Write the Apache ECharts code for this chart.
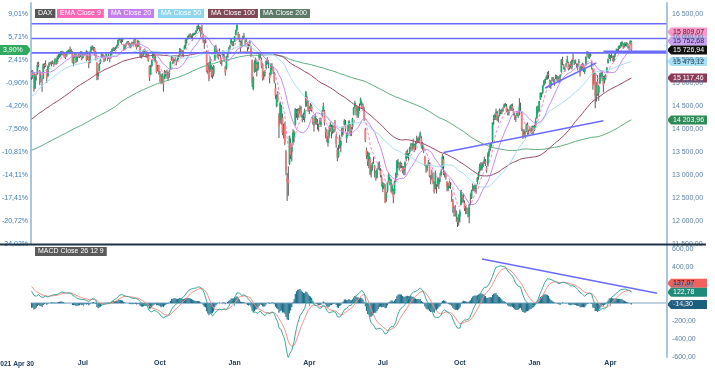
<!DOCTYPE html>
<html><head><meta charset="utf-8">
<script src="https://cdn.jsdelivr.net/npm/echarts@6/dist/echarts.min.js"></script>
<style>html,body{margin:0;padding:0;background:#fff}#c{width:715px;height:368px}</style>
</head><body><div id="c"></div>
<script>
// ---------- DATA ----------
const baseClose = 15135.91;            // close of 2021-04-30 (0 % reference)
const startDate = '2021-04-30';
const holidays = ['2021-12-24','2021-12-31','2022-04-15','2022-04-18','2022-12-26','2023-04-07','2023-04-10','2023-05-01'];
const padDays = 30;                    // empty room right of the last candle

// closes before the window (Jul 2020 - Apr 29 2021), needed for the indicators
const historyCloses = [
12930,13090,12920,13046,13171,13105,12838,12856,12838,12835,12379,12313,
12647,12600,12660,12591,12674,12687,12946,12947,12993,12901,12920,13047,12882,12974,12766,13067,13066,13031,12972,12945,13010,
13243,12974,12842,12842,12968,13101,13237,13202,13194,13218,13255,13208,13116,12542,12606,12642,12607,12469,12870,12825,12760,12730,
12689,12828,12906,12928,13042,13051,13138,12946,12917,12704,12873,12854,12736,12558,12542,12646,12645,12178,12064,11560,11556,11788,
12089,12324,12788,12568,12480,13095,13163,13217,13052,13076,13133,13138,13202,13086,13137,13126,13292,13287,13335,13291,13382,
13382,13313,13252,13298,13271,13278,13340,13114,13223,13363,13565,13630,13587,13246,13419,13587,13790,13761,13719,13719,
13726,13651,13892,13968,14050,13937,13925,13940,13988,13787,13815,13848,13907,13906,13874,13643,13870,13620,13214,13432,
13623,13836,13934,14060,14057,14059,14011,14040,14012,14050,14109,14064,13887,13909,13993,13950,13865,13976,13879,13786,
14012,14039,14080,13921,13920,14381,14437,14541,14569,14502,14461,14496,14597,14775,14621,14657,14662,14606,14621,14748,14817,14840,15008,
15107,15212,15177,15202,15234,15216,15234,15285,15367,15155,15459,15368,15195,15320,15279,15296,15249,15292,15154
];

// daily DAX candles [open, close, low, high], 2021-04-30 .. 2023-05-02
const candles = [
[15251,15136,15076,15278],
// May 2021
[15136,15237,15100,15289],[15237,14856,14820,15245],[14890,15171,14880,15195],[15170,15197,15060,15215],[15220,15400,15190,15460],
[15420,15400,15350,15470],[15280,15120,14960,15290],[15150,15150,15020,15240],[15050,15032,14816,15110],[15100,15416,15090,15430],
[15400,15397,15320,15440],[15420,15386,15350,15500],[15300,15113,15010,15310],[15150,15370,15150,15390],[15390,15438,15360,15460],
[15440,15438,15410,15470],[15450,15465,15370,15480],[15470,15450,15420,15500],[15460,15406,15360,15470],[15420,15520,15410,15550],
[15520,15421,15400,15530],
// Jun 2021
[15430,15568,15430,15605],[15560,15602,15520,15640],[15600,15632,15560,15650],[15620,15693,15580,15700],[15690,15677,15620,15710],
[15680,15640,15600,15700],[15650,15581,15560,15660],[15580,15571,15530,15630],[15590,15693,15580,15700],[15690,15674,15650,15720],
[15680,15729,15670,15740],[15730,15711,15640,15802],[15700,15710,15660,15750],[15690,15448,15440,15700],[15420,15603,15370,15610],
[15610,15637,15560,15660],[15640,15456,15440,15660],[15480,15589,15470,15600],[15600,15607,15560,15650],[15610,15578,15550,15640],
[15590,15691,15570,15700],[15690,15531,15500,15700],
// Jul 2021
[15560,15603,15540,15640],[15620,15650,15590,15680],[15660,15661,15620,15690],[15680,15511,15480,15720],[15540,15692,15510,15700],
[15600,15421,15330,15610],[15450,15688,15440,15700],[15700,15791,15690,15810],[15790,15790,15730,15830],[15780,15788,15700,15800],
[15770,15629,15600,15790],[15650,15540,15500,15700],[15450,15133,15068,15460],[15160,15216,15080,15260],[15270,15422,15260,15440],
[15450,15515,15420,15530],[15560,15669,15550,15680],[15630,15618,15560,15640],[15600,15519,15460,15620],[15520,15571,15480,15590],
[15600,15640,15570,15660],[15580,15544,15490,15600],
// Aug 2021
[15600,15568,15530,15650],[15560,15555,15460,15600],[15570,15692,15540,15700],[15700,15745,15660,15760],[15740,15761,15700,15790],
[15750,15745,15700,15780],[15760,15770,15720,15800],[15780,15826,15760,15840],[15830,15937,15810,15950],[15940,15977,15920,15990],
[15950,15925,15880,15980],[15920,15922,15860,15960],[15940,15965,15900,15990],[15850,15765,15710,15860],[15760,15808,15720,15830],
[15840,15853,15800,15880],[15880,15906,15860,15920],[15900,15860,15830,15920],[15860,15793,15780,15880],[15800,15852,15760,15870],
[15870,15888,15850,15910],[15880,15835,15800,15900],
// Sep 2021
[15860,15946,15850,15980],[15950,15840,15800,15960],[15850,15781,15740,15860],[15800,15932,15790,15950],[15900,15843,15800,15920],
[15800,15610,15560,15810],[15620,15623,15540,15660],[15650,15609,15580,15700],[15620,15701,15600,15720],[15720,15722,15650,15760],
[15700,15616,15560,15710],[15640,15652,15550,15690],[15620,15490,15470,15660],[15380,15132,15050,15390],[15190,15349,15180,15400],
[15380,15506,15350,15520],[15550,15644,15540,15700],[15620,15532,15480,15650],[15540,15573,15450,15600],[15480,15249,15220,15500],
[15300,15366,15260,15400],[15380,15261,15190,15400],
// Oct 2021
[15170,15156,15030,15270],[15160,15037,14980,15200],[15050,15195,15000,15220],[15140,14973,14818,15150],[15100,15251,15090,15290],
[15230,15206,15150,15270],[15250,15199,15100,15300],[15170,15147,15060,15250],[15200,15250,15120,15290],[15300,15463,15290,15480],
[15500,15587,15490,15600],[15560,15474,15420,15570],[15480,15516,15430,15530],[15530,15522,15490,15570],[15480,15473,15390,15500],
[15500,15543,15480,15580],[15560,15599,15520,15620],[15620,15757,15610,15770],[15720,15705,15650,15740],[15700,15696,15600,15720],
[15660,15689,15570,15720],
// Nov 2021
[15740,15806,15740,15830],[15810,15954,15760,15960],[15950,15960,15870,15990],[15990,16030,15960,16040],[16040,16054,15990,16080],
[16060,16047,16000,16090],[16050,16040,15970,16060],[16030,16067,15930,16090],[16050,16083,16040,16100],[16090,16094,16050,16110],
[16100,16148,16080,16160],[16160,16248,16140,16260],[16250,16251,16180,16290],[16230,16221,16130,16240],[16200,16160,16000,16230],
[16140,16115,16070,16280],[16050,15937,15880,16080],[15900,15878,15750,15950],[15900,15917,15870,15960],[15700,15257,15240,15720],
[15400,15280,15200,15440],[15300,15100,15045,15460],
// Dec 2021
[15280,15473,15250,15580],[15300,15263,15130,15400],[15300,15170,15100,15360],[15200,15380,15150,15400],[15500,15813,15490,15820],
[15790,15687,15640,15840],[15680,15639,15560,15720],[15630,15623,15520,15660],[15660,15622,15590,15760],[15560,15454,15420,15620],
[15480,15476,15380,15510],[15600,15636,15560,15720],[15560,15532,15470,15640],[15360,15239,15170,15380],[15320,15593,15300,15600],
[15600,15676,15560,15690],[15700,15756,15690,15790],[15780,15820,15740,15840],[15860,15964,15840,15980],[15890,15852,15810,15920],
[15840,15885,15810,15920],
// Jan 2022
[15900,16021,15900,16030],[16050,16152,16040,16170],[16160,16271,16130,16285],[16080,16052,15960,16120],[16050,15948,15900,16070],
[15900,15768,15690,15930],[15800,15942,15780,15950],[15980,16010,15940,16040],[16030,16031,15990,16100],[15920,15883,15800,15950],
[15910,15934,15900,15970],[15880,15773,15700,15900],[15800,15810,15740,15860],[15880,15912,15800,15940],[15760,15603,15570,15800],
[15500,15011,14920,15520],[14880,15123,14850,15150],[15250,15460,15230,15500],[15280,15524,15250,15560],[15420,15318,15150,15450],
[15300,15471,15270,15480],
// Feb 2022
[15560,15619,15500,15660],[15610,15613,15540,15650],[15500,15368,15330,15560],[15400,15100,15060,15440],[15150,15207,15080,15260],
[15220,15242,15150,15290],[15340,15482,15300,15500],[15530,15490,15420,15570],[15400,15425,15330,15500],[15200,15114,15000,15230],
[15200,15412,15170,15430],[15400,15370,15300,15440],[15320,15268,15200,15360],[15200,15042,15000,15250],[14900,14731,14660,15000],
[14500,14693,14480,14760],[14700,14631,14600,14830],[14300,14052,13808,14350],[14200,14567,14120,14600],[14200,14461,14100,14530],
// Mar 2022
[14250,13905,13870,14340],[13950,14000,13800,14120],[14100,13698,13650,14150],[13500,13094,13000,13550],[12950,12835,12439,13050],
[12900,12831,12550,13190],[13250,13847,13220,13860],[13700,13442,13350,13800],[13500,13628,13300,13660],[13700,13929,13650,14000],
[13800,13917,13720,13970],[14100,14440,14080,14460],[14350,14388,14250,14440],[14300,14413,14200,14450],[14400,14326,14250,14460],
[14400,14473,14350,14520],[14450,14283,14260,14500],[14250,14274,14150,14320],[14300,14306,14200,14360],[14250,14418,14150,14450],
[14500,14820,14480,14830],[14700,14612,14500,14720],[14580,14415,14380,14620],
// Apr 2022
[14450,14446,14330,14500],[14460,14518,14400,14570],[14500,14424,14380,14540],[14250,14152,14100,14300],[14100,14078,13950,14160],
[14150,14284,14100,14330],[14200,14193,14100,14250],[14150,14124,13990,14220],[14050,14076,13950,14120],[14150,14164,14100,14250],
[14100,14153,14050,14250],[14300,14362,14270,14420],[14400,14502,14380,14580],[14400,14142,14080,14420],[14000,13924,13800,14040],
[13950,13757,13720,14000],[13700,13794,13620,13850],[13850,13979,13800,14080],[14050,14098,13950,14150],
// May 2022
[14050,13940,13800,14100],[13950,14040,13900,14100],[14050,13971,13920,14080],[14150,14001,13950,14200],[13850,13674,13600,13900],
[13550,13381,13300,13600],[13400,13534,13380,13660],[13600,13829,13580,13880],[13650,13739,13500,13760],[13850,14027,13830,14060],
[14000,13964,13880,14060],[14100,14186,14080,14220],[14100,14007,13950,14200],[13800,13882,13700,13920],[13950,13982,13850,14090],
[14000,14175,13960,14200],[14100,13919,13850,14120],[13950,14008,13850,14050],[14050,14232,14000,14250],[14320,14462,14300,14480],
[14480,14575,14460,14620],[14500,14388,14300,14520],
// Jun 2022
[14400,14340,14250,14480],[14300,14485,14250,14500],[14500,14460,14400,14560],[14550,14654,14520,14690],[14550,14556,14450,14600],
[14500,14446,14400,14560],[14400,14199,14180,14480],[14000,13762,13720,14030],[13550,13427,13350,13600],[13400,13304,13200,13520],
[13350,13483,13150,13500],[13350,13038,13000,13400],[13050,13126,12950,13220],[13150,13265,13100,13280],[13300,13292,13250,13400],
[13200,13145,12950,13220],[13050,12913,12880,13100],[12950,13118,12930,13150],[13200,13186,13120,13280],[13200,13231,13100,13300],
[13100,13003,12950,13150],[12950,12784,12750,13000],
// Jul 2022
[12700,12813,12630,12850],[12800,12773,12700,12830],[12750,12401,12390,12800],[12500,12595,12420,12640],[12650,12843,12620,12860],
[12850,13015,12840,13050],[12900,12832,12780,12960],[12800,12905,12620,12920],[12650,12756,12580,12800],[12650,12520,12390,12700],
[12600,12865,12580,12880],[12950,12959,12850,13050],[13000,13308,12950,13330],[13250,13282,13150,13350],[13250,13247,13100,13280],
[13250,13254,13150,13300],[13250,13211,13150,13270],[13150,13097,13040,13200],[13100,13166,13000,13200],[13150,13283,13000,13300],
[13350,13484,13300,13530],
// Aug 2022
[13500,13479,13370,13560],[13400,13449,13300,13480],[13500,13588,13460,13620],[13650,13662,13560,13700],[13650,13574,13520,13700],
[13600,13688,13560,13790],[13650,13535,13500,13680],[13600,13701,13550,13740],[13750,13694,13680,13860],[13750,13795,13700,13820],
[13750,13816,13700,13850],[13850,13910,13800,13950],[13800,13627,13580,13850],[13600,13697,13550,13720],[13600,13544,13480,13620],
[13400,13231,13200,13420],[13200,13194,13050,13230],[13150,13220,13080,13240],[13250,13272,13200,13330],[13250,12971,12950,13280],
[12900,12893,12800,13000],[12950,12961,12900,13120],[12950,12835,12800,13050],
// Sep 2022
[12800,12631,12600,12860],[12700,13050,12690,13100],[12750,12761,12600,12800],[12800,12872,12750,12950],[12800,12916,12700,12950],
[12900,12904,12850,13050],[13000,13088,12980,13130],[13150,13403,13120,13460],[13350,13189,13000,13420],[13050,13028,12950,13100],
[13000,12957,12900,13050],[12850,12741,12650,12870],[12700,12803,12650,12830],[12850,12767,12720,12880],[12750,12767,12700,12850],
[12600,12532,12420,12680],[12450,12284,12180,12480],[12250,12228,12100,12320],[12200,12140,12100,12350],[12100,12183,11980,12230],
[12050,11976,11870,12080],[12000,12114,11900,12150],
// Oct 2022
[12100,12209,11970,12250],[12350,12671,12340,12680],[12550,12517,12400,12580],[12500,12471,12400,12600],[12400,12273,12220,12450],
[12250,12272,12150,12330],[12250,12220,12150,12300],[12250,12172,12080,12280],[12100,12356,11950,12380],[12450,12438,12350,12600],
[12500,12649,12480,12680],[12750,12765,12650,12820],[12700,12741,12650,12780],[12700,12767,12620,12800],[12750,12731,12600,12800],
[12850,12931,12800,12960],[12950,13053,12900,13080],[13100,13195,13050,13250],[13150,13211,13100,13280],[13150,13244,13100,13280],
[13250,13254,13180,13300],
// Nov 2022
[13300,13338,13250,13400],[13300,13257,13200,13350],[13150,13130,13050,13200],[13200,13460,13190,13500],[13450,13533,13400,13580],
[13550,13688,13520,13700],[13650,13667,13600,13720],[13750,14146,13720,14150],[14200,14225,14100,14310],[14250,14314,14200,14340],
[14350,14379,14200,14450],[14350,14234,14180,14400],[14250,14266,14150,14300],[14300,14431,14280,14450],[14400,14380,14330,14420],
[14400,14422,14330,14450],[14420,14427,14380,14480],[14480,14539,14460,14560],[14530,14541,14500,14570],[14500,14383,14370,14550],
[14400,14356,14300,14450],[14350,14397,14300,14430],
// Dec 2022
[14450,14490,14400,14520],[14450,14529,14400,14550],[14500,14448,14400,14560],[14400,14343,14300,14450],[14300,14261,14200,14350],
[14250,14264,14160,14300],[14300,14370,14280,14400],[14350,14306,14250,14400],[14350,14497,14300,14675],[14450,14461,14400,14580],
[14350,13987,13960,14380],[13950,13894,13790,14000],[13900,13943,13850,14000],[13900,13884,13800,13960],[13950,14098,13940,14120],
[14100,13914,13880,14150],[13950,13941,13880,13990],[14000,13995,13960,14060],[14000,13926,13900,14020],[13950,14071,13900,14080],
[14050,13924,13900,14080],
// Jan 2023
[13990,14069,13960,14100],[14100,14181,14040,14250],[14250,14491,14220,14500],[14470,14436,14350,14520],[14400,14610,14380,14620],
[14650,14792,14640,14800],[14750,14774,14700,14800],[14800,14948,14770,14960],[14960,15058,14940,15070],[15000,15087,14980,15100],
[15100,15134,15070,15170],[15150,15187,15080,15250],[15200,15181,15100,15270],[15050,14920,14900,15080],[14950,15033,14880,15070],
[15100,15103,15050,15140],[15100,15094,15020,15140],[15050,15082,14950,15100],[15150,15132,15090,15190],[15150,15150,15080,15180],
[15100,15126,15050,15160],[15100,15128,15000,15150],
// Feb 2023
[15100,15181,15040,15200],[15250,15509,15230,15530],[15500,15476,15400,15580],[15400,15345,15300,15420],[15300,15321,15250,15360],
[15400,15412,15350,15450],[15450,15524,15440,15600],[15450,15308,15280,15470],[15350,15397,15300,15410],[15400,15380,15320,15480],
[15350,15506,15300,15520],[15550,15534,15480,15650],[15450,15482,15400,15510],[15500,15477,15420,15520],[15400,15399,15330,15450],
[15400,15400,15280,15420],[15450,15476,15400,15530],[15350,15210,15150,15370],[15300,15381,15280,15420],[15400,15365,15320,15450],
// Mar 2023
[15400,15305,15250,15430],[15250,15328,15200,15350],[15400,15578,15380,15590],[15620,15654,15580,15706],[15650,15559,15540,15690],
[15550,15632,15530,15660],[15600,15633,15580,15660],[15400,15428,15300,15480],[15300,14959,14860,15330],[15050,15233,14980,15260],
[15200,14735,14458,15230],[14750,14967,14600,15030],[15050,14768,14730,15180],[14800,14933,14620,14960],[15000,15195,14980,15230],
[15200,15216,15150,15260],[15100,15210,15050,15250],[15100,14957,14800,15160],[15050,15128,15000,15170],[15150,15142,15080,15200],
[15250,15329,15230,15360],[15450,15522,15430,15540],[15550,15629,15530,15650],
// Apr 2023
[15550,15581,15480,15620],[15600,15603,15550,15650],[15580,15521,15480,15600],[15500,15597,15460,15610],[15600,15655,15570,15680],
[15700,15703,15650,15760],[15700,15729,15660,15750],[15750,15808,15700,15820],[15780,15790,15750,15830],[15800,15883,15780,15900],
[15850,15896,15810,15920],[15850,15795,15750,15870],[15800,15882,15780,15890],[15880,15863,15810,15890],[15830,15872,15800,15900],
[15850,15796,15760,15870],[15780,15801,15720,15820],[15850,15922,15830,15940],
// May 2023
[15900,15726.94,15700,15930]
];

// last values shown in the right-hand tags (as printed on the chart)
const tagNames  = ['EMA Close 9','MA Close 20','DAX','MA Close 50','MA Close 100','MA Close 200'];
const tagValues = [15809.07, 15752.68, 15726.94, 15473.12, 15117.46, 14203.96];
const macdTagNames  = ['Signal','MACD','Histogram'];
const macdTagValues = [137.07, 122.78, -14.30];

// hand-drawn lines: [category index, value]
const levelLines = [16297, 15976, 15664];
const trendUpper = [[440, 14900], [484, 15445]];
const trendLower = [[353, 13493], [490, 14183]];
const lastPriceSeg = [[490, 15700], [544, 15700]];
const macdTrend = [[386, 494], [536, 111]];

// ---------- BUILD ----------
const dates = [];
(function(){
  const d = new Date(startDate + 'T00:00:00Z');
  const total = candles.length + padDays;
  while (dates.length < total) {
    const wd = d.getUTCDay();
    const s = d.toISOString().slice(0,10);
    if (wd !== 0 && wd !== 6 && holidays.indexOf(s) < 0) dates.push(s);
    d.setUTCDate(d.getUTCDate() + 1);
  }
})();
const N = candles.length, H = historyCloses.length;
const allCloses = historyCloses.concat(candles.map(r => r[1]));
function sma(n){ const out=[]; for(let j=0;j<N;j++){ const k=H+j; let s=0; for(let t=k-n+1;t<=k;t++) s+=allCloses[t]; out.push(+(s/n).toFixed(2)); } return out; }
function emaArr(arr, n){ const a=2/(n+1); const out=[]; let e=arr[0]; for(let i=0;i<arr.length;i++){ e = i===0?arr[0]:a*arr[i]+(1-a)*e; out.push(e);} return out; }
const ema9 = emaArr(allCloses, 9).slice(H).map(v=>+v.toFixed(2));
const ma20 = sma(20), ma50 = sma(50), ma100 = sma(100), ma200 = sma(200);
const e12 = emaArr(allCloses, 12), e26 = emaArr(allCloses, 26);
const macdAll = e12.map((v,i)=>v - e26[i]);
const sigAll = emaArr(macdAll, 9);
const macd = macdAll.slice(H).map(v=>+v.toFixed(2));
const signal = sigAll.slice(H).map(v=>+v.toFixed(2));
const hist = macd.map((v,i)=>+(v - signal[i]).toFixed(2));

const MON=['Jan','Feb','Mar','Apr','May','Jun','Jul','Aug','Sep','Oct','Nov','Dec'];
const qStart = new Set();
dates.forEach((d,i)=>{ if(i>0){ const m=+d.slice(5,7), pm=+dates[i-1].slice(5,7); if(m!==pm && (m-1)%3===0) qStart.add(i);} });

function fmtNum(v){ const s=Math.abs(v).toFixed(2).split('.'); return (v<0?'-':'')+s[0].replace(/\B(?=(\d{3})+(?!\d))/g,' ')+','+s[1]; }
function fmtPct(v){ return ((v/baseClose-1)*100).toFixed(2).replace('.',',')+'%'; }

const FONT = '"Liberation Sans", Arial, sans-serif';
const BLUE = '#6b6bff';
const AXIS = '#a9c6dc';

const chart = echarts.init(document.getElementById('c'), null, {renderer:'canvas'});
const lineS = (name, data, color, extra) => Object.assign({
  type:'line', name, data, xAxisIndex:0, yAxisIndex:1, showSymbol:false, symbol:'none', silent:true,
  lineStyle:{color, width:1}, itemStyle:{color}, z:3
}, extra||{});
const drawn = (data, xi, yi) => ({type:'line', data, xAxisIndex:xi, yAxisIndex:yi, showSymbol:false, symbol:'none', silent:true,
  lineStyle:{color:BLUE, width:1.6}, itemStyle:{color:BLUE}, z:6});

const series = [
  {type:'custom', name:'DAX', xAxisIndex:0, yAxisIndex:1, silent:true, z:2,
   data: candles.map((r,i)=>[i, r[0], r[1], r[2], r[3]]),
   encode:{x:0, y:[1,2,3,4]},
   renderItem:(params, api)=>{
     const i=api.value(0), o=api.value(1), c=api.value(2), l=api.value(3), h=api.value(4);
     const pO=api.coord([i,o]), pC=api.coord([i,c]), pL=api.coord([i,l]), pH=api.coord([i,h]);
     const x=pO[0], up=c>=o;
     const top=Math.min(pO[1],pC[1]), bot=Math.max(pO[1],pC[1]);
     return {type:'group', children:[
       {type:'line', shape:{x1:x,y1:pH[1],x2:x,y2:pL[1]}, style:{stroke:'#474747', lineWidth:0.9}},
       {type:'rect', shape:{x:x-0.9, y:top, width:1.8, height:Math.max(bot-top,0.8)}, style:{fill: up?'#15b26d':'#f07a7a'}}
     ]};
   }},
  lineS('MA Close 200', ma200, '#5cae7f'),
  lineS('MA Close 100', ma100, '#9b4766'),
  lineS('MA Close 50', ma50, '#a6e0f2'),
  lineS('MA Close 20', ma20, '#c68af5'),
  lineS('EMA Close 9', ema9, '#ff86c2', {lineStyle:{color:'#ff86c2', width:1, type:[3,2]}}),
];
levelLines.forEach(v => series.push(drawn([[0,v],[dates.length-1,v]], 0, 1)));
series.push(drawn(trendUpper,0,1), drawn(trendLower,0,1), drawn(lastPriceSeg,0,1));
series.push(
  {type:'bar', name:'Histogram', data:hist, xAxisIndex:1, yAxisIndex:2, barWidth:'100%', barCategoryGap:'0%', silent:true,
   itemStyle:{color:'#1f6e8b'}, z:2},
  {type:'line', name:'Signal', data:signal, xAxisIndex:1, yAxisIndex:2, showSymbol:false, symbol:'none', silent:true,
   lineStyle:{color:'#f59088', width:1}, z:3},
  {type:'line', name:'MACD', data:macd, xAxisIndex:1, yAxisIndex:2, showSymbol:false, symbol:'none', silent:true,
   lineStyle:{color:'#3ea79a', width:1}, z:4},
  drawn(macdTrend, 1, 2)
);

const labelX = {fontFamily:FONT, fontSize:7, fontWeight:'bold', color:'#23405f', margin:3};
chart.setOption({
  animation:false,
  backgroundColor:'#fff',
  grid:[
    {left:31, right:48, top:3, height:241, containLabel:false, outerBoundsMode:'none'},
    {left:31, right:48, top:245, height:112, containLabel:false, outerBoundsMode:'none'}
  ],
  xAxis:[
    {type:'category', gridIndex:0, data:dates, boundaryGap:true, axisLine:{show:false}, axisTick:{show:false}, axisLabel:{show:false}, splitLine:{show:false}},
    {type:'category', gridIndex:1, data:dates, boundaryGap:true,
     axisLine:{show:true, lineStyle:{color:AXIS, width:1.5}},
     axisTick:{show:true, alignWithLabel:true, length:3, lineStyle:{color:'#7fa6c4'}, interval:(i)=>i===0||qStart.has(i)},
     axisLabel:Object.assign({interval:(i)=>qStart.has(i), formatter:(v)=>MON[+v.slice(5,7)-1]}, labelX),
     splitLine:{show:false}}
  ],
  yAxis:[
    {type:'value', gridIndex:0, position:'left', min:11500, max:16750, interval:500, scale:true,
     axisLine:{show:true, lineStyle:{color:AXIS, width:2}}, axisTick:{show:false}, splitLine:{show:false},
     axisLabel:{formatter:fmtPct, fontFamily:FONT, fontSize:7, color:'#3a7cc0', margin:3, showMaxLabel:false, showMinLabel:true}},
    {type:'value', gridIndex:0, position:'right', min:11500, max:16750, interval:500, scale:true,
     axisLine:{show:true, lineStyle:{color:AXIS, width:2}}, axisTick:{show:false}, splitLine:{show:false},
     axisLabel:{formatter:fmtNum, fontFamily:FONT, fontSize:7, color:'#5b7fa3', margin:5, showMaxLabel:false, showMinLabel:true}},
    {type:'value', gridIndex:1, position:'right', min:-600, max:650, interval:200,
     axisLine:{show:true, lineStyle:{color:AXIS, width:2}}, axisTick:{show:false}, splitLine:{show:false},
     axisLabel:{formatter:fmtNum, fontFamily:FONT, fontSize:7, color:'#5b7fa3', margin:5, showMaxLabel:false, showMinLabel:true}}
  ],
  series
});

// ---------- annotations (legend boxes, value tags) ----------
function box(x, y, text, bg){ return {type:'text', x, y, z:100, silent:true,
  style:{text, fill:'#fff', font:'7px '+FONT, backgroundColor:bg, padding:[1,3,1,3]}}; }
function rightTag(x, y, text, bg, fg){ return {type:'group', x, y, z:100, silent:true, children:[
  {type:'polygon', shape:{points:[[0,0],[4,-4.5],[40,-4.5],[40,4.5],[4,4.5]]}, style:{fill:bg}},
  {type:'text', x:6, y:0, style:{text, fill:fg, font:'7px '+FONT, verticalAlign:'middle', textVerticalAlign:'middle'}}]}; }
function stack(ys, anchor){ for(let i=anchor-1;i>=0;i--) ys[i]=Math.min(ys[i], ys[i+1]-9); for(let i=anchor+1;i<ys.length;i++) ys[i]=Math.max(ys[i], ys[i-1]+9); return ys; }

const rightX = 715 - 48;
const ysMain = stack(tagValues.map(v => chart.convertToPixel({yAxisIndex:1}, v)), 2);
const ysMacd = stack(macdTagValues.map(v => chart.convertToPixel({yAxisIndex:2}, v)), 2);
const mainColors = [['#ff96c8','#3a1a2a'],['#caa2f5','#2a1a3a'],['#111111','#ffffff'],['#a9e2f5','#1a3a4a'],['#8d3a58','#ffffff'],['#2e8a57','#ffffff']];
const macdColors = [['#f2615c','#2a0a0a'],['#1f8a78','#ffffff'],['#1d5f7d','#ffffff']];
const closeY = chart.convertToPixel({yAxisIndex:1}, tagValues[2]);
const leftX = 31;

const graphics = [
  {type:'line', z:90, silent:true, shape:{x1:0, y1:244.5, x2:706, y2:244.5}, style:{stroke:'#1e3346', lineWidth:2}},
  box(35, 9, 'DAX', '#555555'),
  box(57, 9, 'EMA Close 9', '#ff66b3'),
  box(108, 9, 'MA Close 20', '#c17ff0'),
  box(158, 9, 'MA Close 50', '#8fd6ef'),
  box(208, 9, 'MA Close 100', '#7e4a58'),
  box(260, 9, 'MA Close 200', '#5d7a69'),
  box(35, 247, 'MACD Close 26 12 9', '#5a5a5a'),
  {type:'text', x:leftX+3, y:360.5, z:100, silent:true, style:{text:'2021 Apr 30', fill:'#23405f', font:'bold 6.7px '+FONT, textAlign:'right', align:'right'}},
  {type:'group', x:0, y:closeY, z:100, silent:true, children:[
    {type:'polygon', shape:{points:[[0,-5],[27,-5],[31,0],[27,5],[0,5]]}, style:{fill:'#2faa5f'}},
    {type:'text', x:3, y:0, style:{text:fmtPct(tagValues[2]), fill:'#fff', font:'7px '+FONT, verticalAlign:'middle', textVerticalAlign:'middle'}}]}
];
tagValues.forEach((v,i)=>graphics.push(rightTag(rightX, ysMain[i], fmtNum(v), mainColors[i][0], mainColors[i][1])));
macdTagValues.forEach((v,i)=>graphics.push(rightTag(rightX, ysMacd[i], fmtNum(v), macdColors[i][0], macdColors[i][1])));
chart.setOption({graphic: graphics});
</script>
</body></html>
